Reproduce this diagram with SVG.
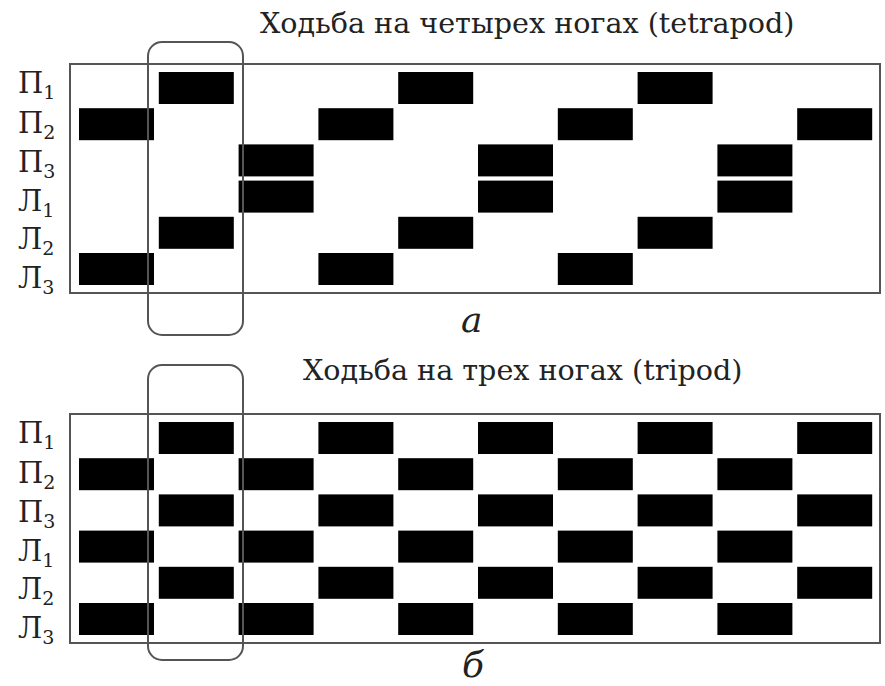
<svg xmlns="http://www.w3.org/2000/svg" width="885" height="686" viewBox="0 0 885 686">
<style>
.t{font-family:"DejaVu Serif","Liberation Serif",serif;fill:#222}
.title{font-size:28.6px}
.lab{font-size:29px}
.sub{font-size:19px}
.cap{font-size:36px;font-style:italic}
.frame{fill:none;stroke:#555;stroke-width:2}
.sel{fill:none;stroke:#555;stroke-width:2}
.b{fill:#000}
</style>
<defs>
<rect id="blk" width="75" height="32"/>
</defs>
<rect width="885" height="686" fill="#fff"/>

<g id="panel-a">
<text class="t title" x="260" y="33">Ходьба на четырех ногах (tetrapod)</text>
<rect class="frame" x="70" y="64" width="810" height="229"/>
<g id="labels-a" class="t lab">
<text x="18" y="93">П<tspan class="sub" dy="6">1</tspan></text>
<text x="18" y="133">П<tspan class="sub" dy="6">2</tspan></text>
<text x="18" y="172">П<tspan class="sub" dy="6">3</tspan></text>
<text x="18" y="211">Л<tspan class="sub" dy="6">1</tspan></text>
<text x="18" y="249">Л<tspan class="sub" dy="6">2</tspan></text>
<text x="18" y="288">Л<tspan class="sub" dy="6">3</tspan></text>
</g>
<g id="blocks-a" class="b">
<use href="#blk" x="158.8" y="72"/><use href="#blk" x="398.2" y="72"/><use href="#blk" x="637.6" y="72"/>
<use href="#blk" x="79" y="108.2"/><use href="#blk" x="318.4" y="108.2"/><use href="#blk" x="557.8" y="108.2"/><use href="#blk" x="797.2" y="108.2"/>
<use href="#blk" x="238.6" y="144.4"/><use href="#blk" x="478" y="144.4"/><use href="#blk" x="717.4" y="144.4"/>
<use href="#blk" x="238.6" y="180.6"/><use href="#blk" x="478" y="180.6"/><use href="#blk" x="717.4" y="180.6"/>
<use href="#blk" x="158.8" y="216.8"/><use href="#blk" x="398.2" y="216.8"/><use href="#blk" x="637.6" y="216.8"/>
<use href="#blk" x="79" y="253"/><use href="#blk" x="318.4" y="253"/><use href="#blk" x="557.8" y="253"/>
</g>
<rect id="sel-a" class="sel" x="148" y="42" width="95" height="293" rx="14"/>
<text class="t cap" x="461" y="332">а</text>
</g>

<g id="panel-b">
<text class="t title" x="303" y="380">Ходьба на трех ногах (tripod)</text>
<rect class="frame" x="70" y="414" width="810" height="229"/>
<g id="labels-b" class="t lab">
<text x="18" y="443">П<tspan class="sub" dy="6">1</tspan></text>
<text x="18" y="483">П<tspan class="sub" dy="6">2</tspan></text>
<text x="18" y="522">П<tspan class="sub" dy="6">3</tspan></text>
<text x="18" y="561">Л<tspan class="sub" dy="6">1</tspan></text>
<text x="18" y="599">Л<tspan class="sub" dy="6">2</tspan></text>
<text x="18" y="638">Л<tspan class="sub" dy="6">3</tspan></text>
</g>
<g id="blocks-b" class="b">
<use href="#blk" x="158.8" y="422"/><use href="#blk" x="318.4" y="422"/><use href="#blk" x="478" y="422"/><use href="#blk" x="637.6" y="422"/><use href="#blk" x="797.2" y="422"/>
<use href="#blk" x="79" y="458.2"/><use href="#blk" x="238.6" y="458.2"/><use href="#blk" x="398.2" y="458.2"/><use href="#blk" x="557.8" y="458.2"/><use href="#blk" x="717.4" y="458.2"/>
<use href="#blk" x="158.8" y="494.4"/><use href="#blk" x="318.4" y="494.4"/><use href="#blk" x="478" y="494.4"/><use href="#blk" x="637.6" y="494.4"/><use href="#blk" x="797.2" y="494.4"/>
<use href="#blk" x="79" y="530.6"/><use href="#blk" x="238.6" y="530.6"/><use href="#blk" x="398.2" y="530.6"/><use href="#blk" x="557.8" y="530.6"/><use href="#blk" x="717.4" y="530.6"/>
<use href="#blk" x="158.8" y="566.8"/><use href="#blk" x="318.4" y="566.8"/><use href="#blk" x="478" y="566.8"/><use href="#blk" x="637.6" y="566.8"/><use href="#blk" x="797.2" y="566.8"/>
<use href="#blk" x="79" y="603"/><use href="#blk" x="238.6" y="603"/><use href="#blk" x="398.2" y="603"/><use href="#blk" x="557.8" y="603"/><use href="#blk" x="717.4" y="603"/>
</g>
<rect id="sel-b" class="sel" x="148" y="365" width="95" height="295" rx="14"/>
<text class="t cap" x="462" y="677">б</text>
</g>
</svg>
